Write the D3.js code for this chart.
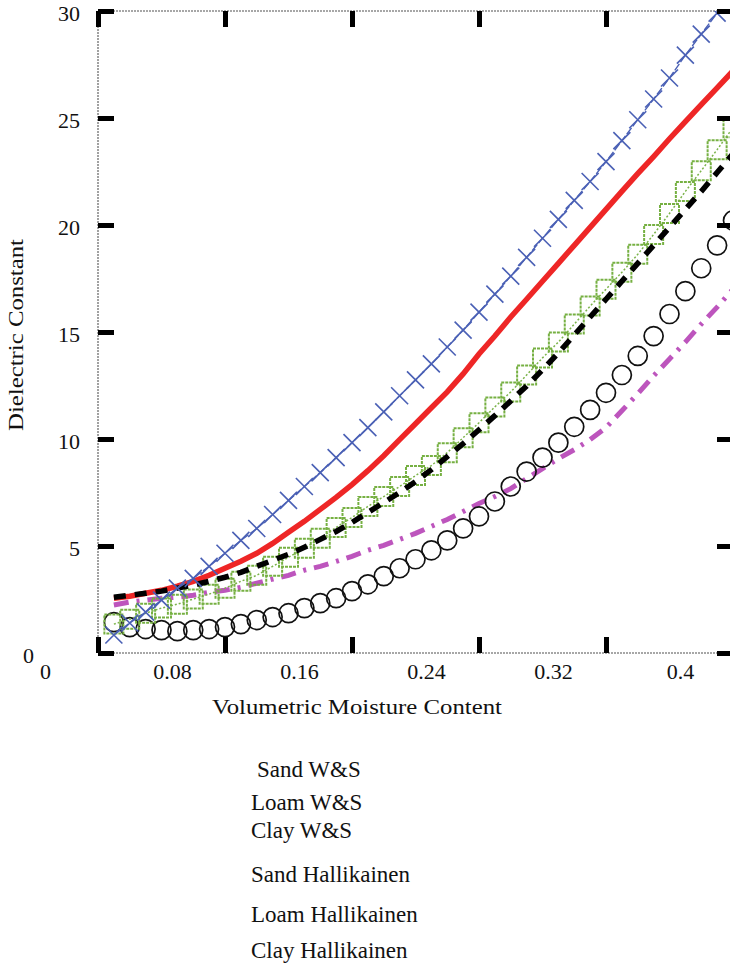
<!DOCTYPE html>
<html>
<head>
<meta charset="utf-8">
<script src="https://cdn.jsdelivr.net/npm/d3@7/dist/d3.min.js"></script>
<style>
  html, body { margin: 0; padding: 0; background: #fff; }
  svg { display: block; font-family: "Liberation Serif", "Times New Roman", serif; }
</style>
</head>
<body>
<script>
// ---------------- DATA ----------------
const moisture = [0.01,0.02,0.03,0.04,0.05,0.06,0.07,0.08,0.09,0.10,
                  0.11,0.12,0.13,0.14,0.15,0.16,0.17,0.18,0.19,0.20,
                  0.21,0.22,0.23,0.24,0.25,0.26,0.27,0.28,0.29,0.30,
                  0.31,0.32,0.33,0.34,0.35,0.36,0.37,0.38,0.39,0.40];

const sandWS = [0.84,1.40,1.91,2.47,3.03,3.49,4.05,4.66,5.26,5.82,
                6.47,7.13,7.78,8.43,9.13,9.83,10.53,11.27,12.02,12.76,
                13.51,14.30,15.09,15.93,16.77,17.61,18.49,19.38,20.26,21.15,
                22.03,22.96,23.94,24.92,25.89,26.87,27.94,28.92,29.90];

const loamWS = [1.35,1.58,1.86,2.10,2.28,2.52,2.75,3.03,3.35,3.63,
                4.05,4.47,4.89,5.36,5.87,6.33,6.85,7.31,7.78,8.29,
                8.76,9.36,10.06,10.76,11.50,12.20,12.99,13.79,14.53,15.37,
                16.21,17.00,17.79,18.63,19.56,20.54,21.57,22.54,23.52,24.55];

const clayWS = [1.44,1.21,1.12,1.07,1.02,1.07,1.12,1.21,1.35,1.54,
                1.68,1.86,2.10,2.33,2.56,2.89,3.21,3.59,3.96,4.38,
                4.80,5.26,5.82,6.38,7.08,7.78,8.48,9.13,9.83,10.57,
                11.36,12.16,12.99,13.88,14.81,15.84,16.91,17.98,19.05,20.21];

const sandH = [2.56,2.65,2.79,2.93,3.12,3.35,3.63,3.96,4.29,4.66,
               5.12,5.64,6.15,6.71,7.27,7.87,8.52,9.22,9.97,10.71,
               11.46,12.20,13.04,13.97,14.81,15.70,16.53,17.37,18.21,19.05,
               19.89,20.73,21.57,22.40,23.20,24.03,24.83,25.62,26.41,27.20];

const loamH = [2.61,2.70,2.79,2.89,3.03,3.17,3.35,3.54,3.77,4.05,
               4.33,4.61,4.94,5.31,5.68,6.10,6.57,7.03,7.50,8.01,
               8.57,9.18,9.78,10.43,11.09,11.78,12.48,13.23,14.02,14.86,
               15.70,16.53,17.37,18.21,19.05,19.89,20.73,21.57,22.45,23.33];

const clayH = [2.24,2.38,2.47,2.56,2.61,2.70,2.84,2.93,3.07,3.26,
               3.45,3.63,3.87,4.05,4.28,4.52,4.80,5.03,5.31,5.59,
               5.92,6.24,6.61,6.99,7.31,7.68,8.15,8.62,9.08,9.50,
               9.97,10.53,11.32,12.11,12.95,13.74,14.53,15.37,16.16,17.00];

const xTicks = [0, 0.08, 0.16, 0.24, 0.32, 0.4];
const yTicks = [0, 5, 10, 15, 20, 25, 30];
const legendLabels = ["Sand W&S", "Loam W&S", "Clay W&S",
                      "Sand Hallikainen", "Loam Hallikainen", "Clay Hallikainen"];
const xTitle = "Volumetric Moisture Content";
const yTitle = "Dielectric Constant";

// ---------------- LAYOUT ----------------
(function () {
const W = 730, H = 964;
const pLeft = 98, pRight = 733, pTop = 11, pBottom = 653;

const svg = d3.select("body").append("svg").attr("width", W).attr("height", H);

const x = d3.scaleLinear().domain([0, 0.4]).range([pLeft, pRight]);
const y = d3.scaleLinear().domain([0, 30]).range([pBottom, pTop]);

svg.append("defs").append("clipPath").attr("id", "plot")
  .append("rect").attr("x", pLeft).attr("y", pTop)
  .attr("width", pRight - pLeft).attr("height", pBottom - pTop);

// frame
const frame = svg.append("g").attr("stroke", "#8a8a8a").attr("stroke-width", 1.6)
  .attr("stroke-dasharray", "2,1").attr("fill", "none");
frame.append("line").attr("x1", pLeft).attr("x2", pRight).attr("y1", pTop).attr("y2", pTop);
frame.append("line").attr("x1", pLeft).attr("x2", pRight).attr("y1", pBottom).attr("y2", pBottom);
frame.append("line").attr("x1", pLeft).attr("x2", pLeft).attr("y1", pTop).attr("y2", pBottom);
frame.append("line").attr("x1", pRight).attr("x2", pRight).attr("y1", pTop).attr("y2", pBottom);

const plot = svg.append("g").attr("clip-path", "url(#plot)");

function pts(vals) { return vals.map((v, i) => [moisture[i], v]); }
const line = d3.line().x(d => x(d[0])).y(d => y(d[1]));

// Sand Hallikainen - red solid
plot.append("path").datum(pts(sandH)).attr("d", line)
  .attr("fill", "none").attr("stroke", "#ee2626").attr("stroke-width", 5.5);

// Clay Hallikainen - purple dash-dot
plot.append("path").datum(pts(clayH)).attr("d", line)
  .attr("fill", "none").attr("stroke", "#bd55bd").attr("stroke-width", 5)
  .attr("stroke-dasharray", "15,8,3,8");

// Clay W&S - circles
plot.append("g").selectAll("circle").data(pts(clayWS)).join("circle")
  .attr("cx", d => x(d[0])).attr("cy", d => y(d[1])).attr("r", 9.5)
  .attr("fill", "none").attr("stroke", "#111").attr("stroke-width", 1.7);

// Loam W&S - green squares with dotted line
plot.append("path").datum(pts(loamWS)).attr("d", line)
  .attr("fill", "none").attr("stroke", "#7bb34a").attr("stroke-width", 1.5)
  .attr("stroke-dasharray", "2,2");
plot.append("g").selectAll("rect").data(pts(loamWS)).join("rect")
  .attr("x", d => x(d[0]) - 9.5).attr("y", d => y(d[1]) - 9.5)
  .attr("width", 19).attr("height", 19)
  .attr("fill", "none").attr("stroke", "#76b042").attr("stroke-width", 2)
  .attr("stroke-dasharray", "3,1");

// Loam Hallikainen - black dashed
plot.append("path").datum(pts(loamH)).attr("d", line)
  .attr("fill", "none").attr("stroke", "#000").attr("stroke-width", 5.5)
  .attr("stroke-dasharray", "12,9");

// Sand W&S - blue x markers with thin line
plot.append("path").datum(pts(sandWS)).attr("d", line)
  .attr("fill", "none").attr("stroke", "#4a60b5").attr("stroke-width", 1.4)
  .attr("stroke-dasharray", "8,2");
plot.append("g").selectAll("path").data(pts(sandWS)).join("path")
  .attr("transform", d => `translate(${x(d[0])},${y(d[1])})`)
  .attr("d", "M-8.5,-8.5L8.5,8.5M-8.5,8.5L8.5,-8.5")
  .attr("fill", "none").attr("stroke", "#4a60b5").attr("stroke-width", 1.6);

// ---------------- AXES ----------------
function styleTicks(g) {
  g.select(".domain").remove();
  g.selectAll(".tick line").attr("stroke", "#000").attr("stroke-width", 5);
}

const xAxisB = svg.append("g").attr("transform", `translate(0,${pBottom})`)
  .call(d3.axisBottom(x).tickValues(xTicks).tickSize(-16).tickPadding(10)
        .tickFormat(d => String(d)));
styleTicks(xAxisB);
xAxisB.selectAll(".tick text").attr("dx", -53).attr("font-size", 22)
  .attr("fill", "#111").attr("font-family", "Liberation Serif, serif");

const xAxisT = svg.append("g").attr("transform", `translate(0,${pTop})`)
  .call(d3.axisTop(x).tickValues(xTicks).tickSize(-16).tickFormat(""));
styleTicks(xAxisT);

const yAxisL = svg.append("g").attr("transform", `translate(${pLeft},0)`)
  .call(d3.axisLeft(y).tickValues(yTicks).tickSize(-16).tickPadding(18));
styleTicks(yAxisL);
yAxisL.selectAll(".tick text").attr("font-size", 22).attr("dy", "0.42em")
  .attr("fill", "#111").attr("font-family", "Liberation Serif, serif");
yAxisL.selectAll(".tick text").filter(d => d === 0).attr("x", -64);

const yAxisR = svg.append("g").attr("transform", `translate(${pRight},0)`)
  .call(d3.axisRight(y).tickValues(yTicks).tickSize(-16).tickFormat(""));
styleTicks(yAxisR);

// titles
svg.append("text").attr("x", 357).attr("y", 714).attr("text-anchor", "middle")
  .attr("font-size", 22).attr("fill", "#111")
  .attr("textLength", 290).attr("lengthAdjust", "spacingAndGlyphs").text(xTitle);

svg.append("text").attr("transform", "translate(23,335) rotate(-90)")
  .attr("text-anchor", "middle").attr("font-size", 22).attr("fill", "#111")
  .attr("textLength", 192).attr("lengthAdjust", "spacingAndGlyphs").text(yTitle);

// legend text
const legendY = [777, 810, 838, 882, 922, 958];
const legendX = [257, 251, 251, 251, 251, 251];
svg.append("g").selectAll("text").data(legendLabels).join("text")
  .attr("x", (d, i) => legendX[i]).attr("y", (d, i) => legendY[i])
  .attr("font-size", 23).attr("fill", "#111").text(d => d);
})();
</script>
</body>
</html>
